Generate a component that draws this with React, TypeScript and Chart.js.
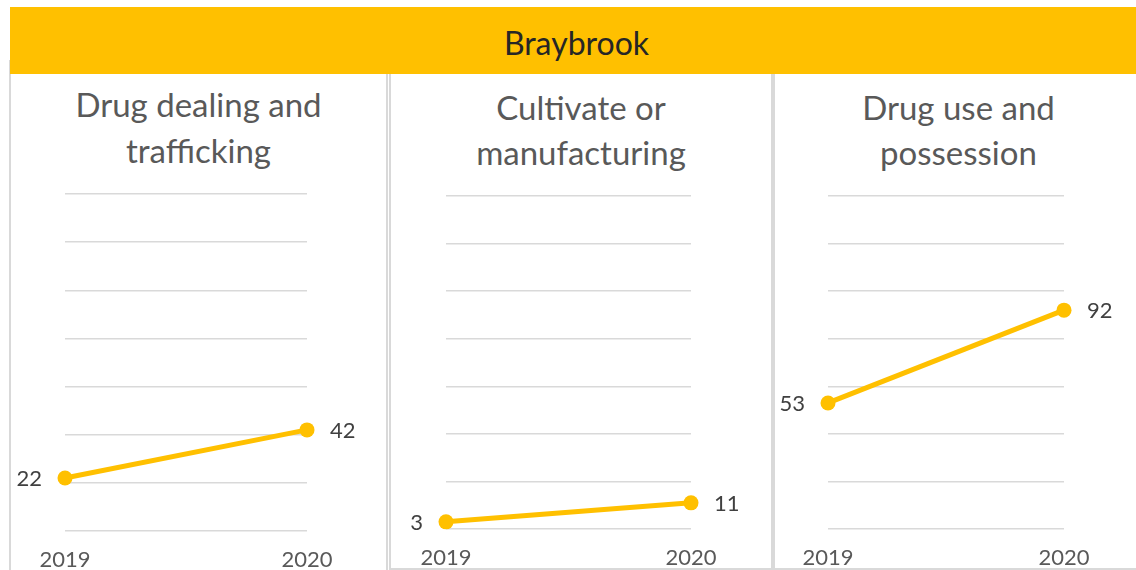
import React, { useEffect, useRef } from 'react';
import { Chart, registerables } from 'chart.js';

Chart.register(...registerables);

// ---- data ----
const years = ['2019', '2020'];
const dealingValues = [22, 42];
const cultivateValues = [3, 11];
const useValues = [53, 92];
const dealingTitle = ['Drug dealing and', 'trafficking'];
const cultivateTitle = ['Cultivate or', 'manufacturing'];
const useTitle = ['Drug use and', 'possession'];
const headerText = 'Braybrook';
const yMin = 0;
const yMax = 140;
const yStep = 20;

// ---- styles ----
const FONT = 'Lato';
const YELLOW = '#FFC000';
const BORDER = '#D9D9D9';

const valueLabels = {
  id: 'valueLabels',
  afterDatasetsDraw(chart: any) {
    const ctx = chart.ctx;
    const meta = chart.getDatasetMeta(0);
    const data = chart.data.datasets[0].data as number[];
    ctx.save();
    ctx.font = `22px ${FONT}`;
    ctx.fillStyle = '#404040';
    ctx.textBaseline = 'middle';
    meta.data.forEach((pt: any, i: number) => {
      const first = i === 0;
      ctx.textAlign = first ? 'right' : 'left';
      ctx.fillText(String(data[i]), pt.x + (first ? -23 : 23), pt.y + 1);
    });
    ctx.restore();
  },
};

type PanelProps = {
  values: number[];
  title: string[];
  boxLeft: number;
  boxWidth: number;
  boxHeight: number;
  canvasLeft: number;
  canvasWidth: number;
  padLeft: number;
  padRight: number;
  padTop: number;
  padBottom: number;
  titleTop: number;
  titleLine: number;
};

const CANVAS_TOP = 170;
const CANVAS_H = 430;

function Panel(p: PanelProps) {
  const ref = useRef<HTMLCanvasElement>(null);
  useEffect(() => {
    const chart = new Chart(ref.current as HTMLCanvasElement, {
      type: 'line',
      data: {
        labels: years,
        datasets: [
          {
            data: p.values,
            borderColor: YELLOW,
            backgroundColor: YELLOW,
            borderWidth: 5,
            pointRadius: 7.5,
            pointBackgroundColor: YELLOW,
            pointBorderWidth: 0,
            tension: 0,
            clip: false as any,
          },
        ],
      },
      options: {
        responsive: false,
        animation: false,
        events: [],
        layout: {
          padding: { left: p.padLeft, right: p.padRight, top: p.padTop, bottom: p.padBottom },
        },
        plugins: {
          legend: { display: false },
          tooltip: { enabled: false },
          title: { display: false },
        },
        scales: {
          x: {
            type: 'category',
            offset: false,
            grid: { display: false, drawTicks: false },
            border: { display: false },
            ticks: {
              color: '#595959',
              font: { family: FONT, size: 22 },
              padding: 16,
              maxRotation: 0,
              autoSkip: false,
            },
          },
          y: {
            min: yMin,
            max: yMax,
            grid: { color: BORDER, lineWidth: 1.5, drawTicks: false },
            border: { display: false },
            ticks: { display: false, stepSize: yStep },
          },
        },
      },
      plugins: [valueLabels],
    });
    return () => chart.destroy();
  }, []);

  return (
    <>
      <div
        style={{
          position: 'absolute',
          left: p.boxLeft,
          top: 60,
          width: p.boxWidth,
          height: p.boxHeight,
          border: `2px solid ${BORDER}`,
          boxSizing: 'border-box',
          background: '#fff',
        }}
      />
      <div
        style={{
          position: 'absolute',
          left: p.boxLeft,
          top: p.titleTop,
          width: p.boxWidth,
          textAlign: 'center',
          fontFamily: FONT,
          fontSize: 33,
          lineHeight: `${p.titleLine}px`,
          color: '#595959',
          whiteSpace: 'nowrap',
        }}
      >
        {p.title.map((t, i) => (
          <div key={i}>{t}</div>
        ))}
      </div>
      <canvas
        ref={ref}
        width={p.canvasWidth}
        height={CANVAS_H}
        style={{
          position: 'absolute',
          left: p.canvasLeft,
          top: CANVAS_TOP,
          width: p.canvasWidth,
          height: CANVAS_H,
        }}
      />
    </>
  );
}

export default function App() {
  return (
    <div
      style={{
        position: 'fixed',
        left: 0,
        top: 0,
        width: 1136,
        height: 570,
        overflow: 'hidden',
        background: '#fff',
      }}
    >
      <Panel
        values={dealingValues}
        title={dealingTitle}
        boxLeft={9}
        boxWidth={379}
        boxHeight={540}
        canvasLeft={11}
        canvasWidth={375}
        padLeft={54}
        padRight={79}
        padTop={24}
        padBottom={10.6}
        titleTop={81}
        titleLine={46}
      />
      <Panel
        values={cultivateValues}
        title={cultivateTitle}
        boxLeft={389}
        boxWidth={384}
        boxHeight={510}
        canvasLeft={391}
        canvasWidth={380}
        padLeft={55}
        padRight={80}
        padTop={26}
        padBottom={12.6}
        titleTop={85}
        titleLine={45}
      />
      <Panel
        values={useValues}
        title={useTitle}
        boxLeft={773}
        boxWidth={371}
        boxHeight={510}
        canvasLeft={775}
        canvasWidth={361}
        padLeft={53}
        padRight={72}
        padTop={26}
        padBottom={12.6}
        titleTop={85}
        titleLine={45}
      />
      <div
        style={{
          position: 'absolute',
          left: 10,
          top: 7,
          width: 1126,
          height: 67,
          background: YELLOW,
          boxSizing: 'border-box',
          paddingLeft: 7,
          textAlign: 'center',
          fontFamily: FONT,
          fontSize: 32,
          lineHeight: '71px',
          color: '#262626',
          overflow: 'hidden',
        }}
      >
        {headerText}
      </div>
    </div>
  );
}
